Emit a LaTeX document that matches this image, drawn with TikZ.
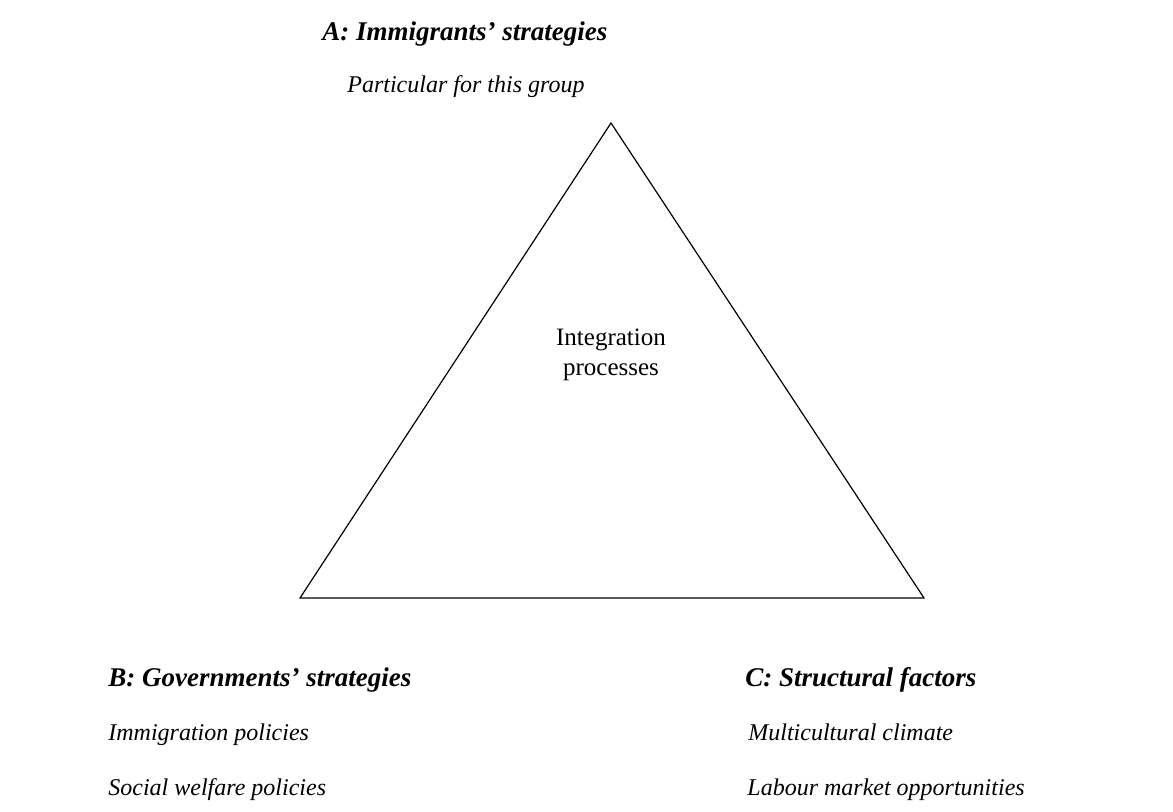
\documentclass[tikz,border=0pt]{standalone}
\usepackage{fontspec}
\setmainfont{Liberation Serif}
\usepackage{tikz}
\usetikzlibrary{positioning,calc}

\begin{document}
\begin{tikzpicture}[x=0.5pt, y=-0.5pt,
  head/.style={font=\fontsize{13.5}{16}\selectfont\bfseries\itshape, anchor=base west, inner sep=0pt},
  item/.style={font=\fontsize{12}{14}\selectfont\itshape, anchor=base west, inner sep=0pt}]
\useasboundingbox (0,0) rectangle (1173,812);
%
\coordinate (top) at (611,123);
\coordinate (bl) at (300,598);
\coordinate (br) at (924,598);
\draw[line width=0.6pt, line join=miter] (top) -- (bl) -- (br) -- cycle;
%
\node[align=center, font=\fontsize{12.5}{15}\selectfont] (mid) at (611,355) {Integration\\processes};
%
\node[head] (A) at (322,41) {A: Immigrants' strategies};
\node[item] (Asub) at (347,93) {Particular for this group};
%
\node[head] (B) at (108,686) {B: Governments' strategies};
\node[item] (B1) at (108,740) {Immigration policies};
\node[item] (B2) at (108,795) {Social welfare policies};
%
\node[head] (C) at (745,686) {C: Structural factors};
\node[item] (C1) at (748,740) {Multicultural climate};
\node[item] (C2) at (747,795) {Labour market opportunities};
\end{tikzpicture}
\end{document}
